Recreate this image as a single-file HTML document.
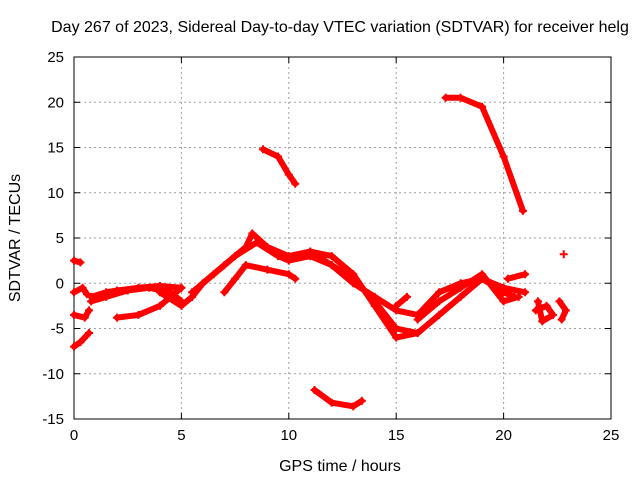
<!DOCTYPE html>
<html><head><meta charset="utf-8"><style>
body{margin:0;background:#fff}
svg{display:block;font-family:"Liberation Sans",sans-serif;font-size:15px}
</style></head><body>
<svg id="chart" width="640" height="480" viewBox="0 0 640 480" xmlns="http://www.w3.org/2000/svg">
<text x="340" y="32" text-anchor="middle" style="font-size:16px">Day 267 of 2023, Sidereal Day-to-day VTEC variation (SDTVAR) for receiver helg</text>
<g id="grid"></g>
<g id="axes"></g>
<g id="series"></g>
<text x="340" y="471" text-anchor="middle" style="font-size:16px">GPS time / hours</text>
<text transform="translate(20,238) rotate(-90)" text-anchor="middle" style="font-size:16px">SDTVAR / TECUs</text>
</svg>
<script>
const xTicks=[0,5,10,15,20,25];
const yTicks=[-15,-10,-5,0,5,10,15,20,25];
const track1=[[0,2.5],[0.3,2.3]];
const track2=[[0,-1],[0.4,-0.5],[0.6,-1.2]];
const track3=[[0,-3.5],[0.5,-3.8],[0.7,-3]];
const track4=[[0,-7],[0.3,-6.5],[0.7,-5.5]];
const track5=[[0.8,-1.5],[1.5,-1],[2,-0.8],[3,-0.5],[4,-0.3],[5,-0.5]];
const track6=[[0.8,-2],[1.5,-1.5],[2.5,-0.8],[3.5,-0.5],[4.5,-1],[5,-2]];
const track7=[[2,-3.8],[3,-3.5],[4,-2.5],[4.5,-1.5],[5,-0.5]];
const track8=[[4,-1],[5,-2.5],[5.5,-1.5],[6,0],[7,2],[8,4],[8.3,5.5],[9,4],[10,3],[11,3.5],[12,2],[13,0],[14,-1.5],[15,-3],[16,-3.5],[17,-1],[18,0],[19,0.5],[20,-0.5],[21,-1]];
const track9=[[5.5,-1],[6.5,1],[7.5,3],[8.5,4.5],[9.5,3],[10,2.5],[11,3],[12,2],[13,0.5],[14,-2],[15,-5],[16,-5.5],[17,-3.5],[18,-1.5],[19,0.5],[20,-1],[20.5,-1.5]];
const track10=[[7,-1],[7.5,0.5],[8,2],[9,1.5],[10,1],[10.3,0.5]];
const track11=[[11,3.5],[12,3],[13,1],[14,-2.5],[15,-6],[16,-5.5]];
const track12=[[8.8,14.8],[9.5,14],[10,12],[10.3,11]];
const track13=[[11.2,-11.8],[12,-13.2],[13,-13.6],[13.4,-13]];
const track14=[[17.3,20.5],[18,20.5],[19,19.5],[20,14],[20.9,8]];
const track15=[[20.2,0.5],[21,1]];
const track16=[[21.5,-3],[22,-2.5],[22.3,-3.5],[21.8,-4.2],[21.6,-2]];
const track17=[[22.6,-2],[22.9,-3],[22.7,-4]];
const track18=[[22.8,3.2]];
const track19=[[15,-2.5],[15.5,-1.5]];
const track20=[[16,-4],[17,-2],[18,-0.5],[19,1],[20,-2],[20.7,-1.5]];
const tracks=[track1,track2,track3,track4,track5,track6,track7,track8,track9,track10,track11,track12,track13,track14,track15,track16,track17,track18,track19,track20];
const L=74,R=611,T=57,B=419;
const X=v=>L+(v-0)/(25-0)*(R-L);
const Y=v=>B-(v+15)/(40)*(B-T);
const NS="http://www.w3.org/2000/svg";
const g=document.getElementById('grid'),a=document.getElementById('axes'),s=document.getElementById('series');
function mk(tag,at,p){const e=document.createElementNS(NS,tag);for(const k in at)e.setAttribute(k,at[k]);p.appendChild(e);return e;}
xTicks.forEach(t=>{
 if(t>0&&t<25){const l=mk('line',{x1:X(t),x2:X(t),y1:T,y2:B,stroke:'#a0a0a0','stroke-dasharray':'2,3'},g);
 
 }
 const tx=mk('text',{x:X(t),y:B+21,'text-anchor':'middle'},a);tx.textContent=t;
 
 
 mk('line',{x1:X(t),x2:X(t),y1:B,y2:B-6,stroke:'#000'},a);
 mk('line',{x1:X(t),x2:X(t),y1:T,y2:T+6,stroke:'#000'},a);
});
yTicks.forEach(t=>{
 if(t>-15&&t<25){const l=mk('line',{x1:L,x2:R,y1:Y(t),y2:Y(t),stroke:'#a0a0a0','stroke-dasharray':'2,3'},g);
 
 }
 const tx=mk('text',{x:L-10,y:Y(t)+5,'text-anchor':'end'},a);tx.textContent=t;
 
 
 mk('line',{x1:L,x2:L+6,y1:Y(t),y2:Y(t),stroke:'#000'},a);
 mk('line',{x1:R,x2:R-6,y1:Y(t),y2:Y(t),stroke:'#000'},a);
});
const fr=mk('rect',{x:L,y:T,width:R-L,height:B-T,fill:'none',stroke:'#000'},a);


tracks.forEach(tr=>{
 const pts=tr.map(p=>X(p[0])+','+Y(p[1])).join(' ');
 const pl=mk('polyline',{points:pts,fill:'none',stroke:'#f00','stroke-width':6,'stroke-linecap':'round','stroke-linejoin':'round'},s);
 
 
 tr.forEach(p=>{const x=X(p[0]),y=Y(p[1]);
  mk('path',{d:`M${x-4},${y}H${x+4}M${x},${y-4}V${y+4}`,stroke:'#f00','stroke-width':2},s);});
});
</script>
</body></html>
